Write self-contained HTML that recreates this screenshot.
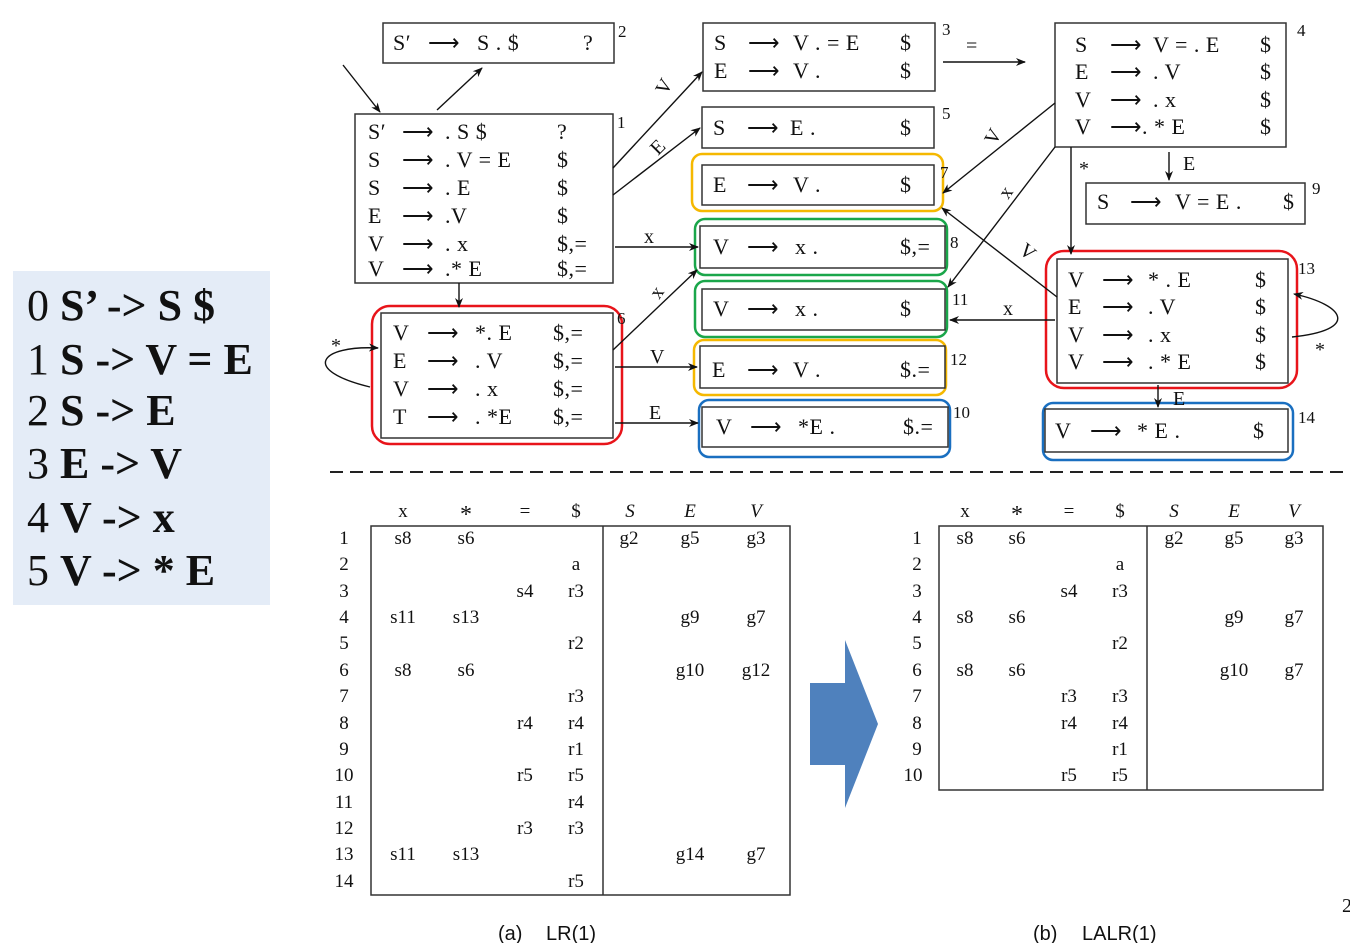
<!DOCTYPE html>
<html><head><meta charset="utf-8"><style>
html,body{margin:0;padding:0;background:#fff;}
svg{display:block;}
text{font-family:"Liberation Serif",serif;fill:#111;}
.b{font-size:22px;letter-spacing:0.5px;}
.n{font-size:17px;}
.t{font-size:20px;}
.l{font-size:19px;}
.c{font-family:"Liberation Sans",sans-serif;font-size:20px;}
</style></head><body>
<svg width="1350" height="943" viewBox="0 0 1350 943" xmlns="http://www.w3.org/2000/svg">
<defs>
<marker id="ah" markerWidth="10" markerHeight="8" refX="9" refY="4" orient="auto" markerUnits="userSpaceOnUse">
<path d="M0,0 L10,4 L0,8 L3,4 z" fill="#111"/></marker>
</defs>

<!-- legend -->
<rect x="13" y="271" width="257" height="334" fill="#e4ecf7"/>
<g style="font-size:44px">
<text x="27" y="320">0 <tspan font-weight="bold">S’ -&gt; S $</tspan></text>
<text x="27" y="374">1 <tspan font-weight="bold">S -&gt; V = E</tspan></text>
<text x="27" y="425">2 <tspan font-weight="bold">S -&gt; E</tspan></text>
<text x="27" y="478">3 <tspan font-weight="bold">E -&gt; V</tspan></text>
<text x="27" y="532">4 <tspan font-weight="bold">V -&gt; x</tspan></text>
<text x="27" y="585">5 <tspan font-weight="bold">V -&gt; * E</tspan></text>
</g>

<!-- colored outlines -->
<g fill="none" stroke-width="2.5">
<rect x="692" y="154" width="251" height="57" rx="10" stroke="#f5b800"/>
<rect x="695" y="219" width="252" height="56" rx="10" stroke="#1aa64a"/>
<rect x="695" y="281" width="252" height="56" rx="10" stroke="#1aa64a"/>
<rect x="694" y="340" width="252" height="55" rx="10" stroke="#f5b800"/>
<rect x="699" y="400" width="251" height="57" rx="10" stroke="#1a6fc0"/>
<rect x="372" y="306" width="250" height="138" rx="18" stroke="#e8141a"/>
<rect x="1046" y="251" width="251" height="137" rx="18" stroke="#e8141a"/>
<rect x="1043" y="403" width="250" height="57" rx="10" stroke="#1a6fc0"/>
</g>

<!-- boxes -->
<g fill="none" stroke="#333" stroke-width="1.5">
<rect x="383" y="23" width="231" height="40"/>
<rect x="703" y="23" width="232" height="68"/>
<rect x="1055" y="23" width="231" height="124"/>
<rect x="355" y="114" width="258" height="169"/>
<rect x="702" y="107" width="232" height="41"/>
<rect x="702" y="165" width="232" height="40"/>
<rect x="700" y="226" width="245" height="42"/>
<rect x="702" y="289" width="243" height="41"/>
<rect x="700" y="346" width="245" height="42"/>
<rect x="702" y="407" width="246" height="40"/>
<rect x="381" y="313" width="232" height="125"/>
<rect x="1086" y="183" width="219" height="41"/>
<rect x="1057" y="259" width="231" height="124"/>
<rect x="1045" y="409" width="243" height="43"/>
</g>

<g class="b">
<text x="393" y="50">S′</text><text x="428" y="50">⟶</text><text x="477" y="50">S . $</text><text x="583" y="50">?</text>
<text x="714" y="50">S</text><text x="748" y="50">⟶</text><text x="793" y="50">V . = E</text><text x="900" y="50">$</text>
<text x="714" y="78">E</text><text x="748" y="78">⟶</text><text x="793" y="78">V .</text><text x="900" y="78">$</text>
<text x="1075" y="52">S</text><text x="1110" y="52">⟶</text><text x="1153" y="52">V = . E</text><text x="1260" y="52">$</text>
<text x="1075" y="79">E</text><text x="1110" y="79">⟶</text><text x="1153" y="79">. V</text><text x="1260" y="79">$</text>
<text x="1075" y="107">V</text><text x="1110" y="107">⟶</text><text x="1153" y="107">. x</text><text x="1260" y="107">$</text>
<text x="1075" y="134">V</text><text x="1110" y="134">⟶. * E</text><text x="1260" y="134">$</text>
<text x="368" y="139">S′</text><text x="402" y="139">⟶</text><text x="445" y="139">. S $</text><text x="557" y="139">?</text>
<text x="368" y="167">S</text><text x="402" y="167">⟶</text><text x="445" y="167">. V = E</text><text x="557" y="167">$</text>
<text x="368" y="195">S</text><text x="402" y="195">⟶</text><text x="445" y="195">. E</text><text x="557" y="195">$</text>
<text x="368" y="223">E</text><text x="402" y="223">⟶</text><text x="445" y="223">.V</text><text x="557" y="223">$</text>
<text x="368" y="251">V</text><text x="402" y="251">⟶</text><text x="445" y="251">. x</text><text x="557" y="251">$,=</text>
<text x="368" y="276">V</text><text x="402" y="276">⟶</text><text x="445" y="276">.* E</text><text x="557" y="276">$,=</text>
<text x="713" y="135">S</text><text x="747" y="135">⟶</text><text x="790" y="135">E .</text><text x="900" y="135">$</text>
<text x="713" y="192">E</text><text x="747" y="192">⟶</text><text x="793" y="192">V .</text><text x="900" y="192">$</text>
<text x="713" y="254">V</text><text x="747" y="254">⟶</text><text x="795" y="254">x .</text><text x="900" y="254">$,=</text>
<text x="713" y="316">V</text><text x="747" y="316">⟶</text><text x="795" y="316">x .</text><text x="900" y="316">$</text>
<text x="712" y="377">E</text><text x="747" y="377">⟶</text><text x="793" y="377">V .</text><text x="900" y="377">$.=</text>
<text x="716" y="434">V</text><text x="750" y="434">⟶</text><text x="798" y="434">*E .</text><text x="903" y="434">$.=</text>
<text x="393" y="340">V</text><text x="427" y="340">⟶</text><text x="475" y="340">*. E</text><text x="553" y="340">$,=</text>
<text x="393" y="368">E</text><text x="427" y="368">⟶</text><text x="475" y="368">. V</text><text x="553" y="368">$,=</text>
<text x="393" y="396">V</text><text x="427" y="396">⟶</text><text x="475" y="396">. x</text><text x="553" y="396">$,=</text>
<text x="393" y="424">T</text><text x="427" y="424">⟶</text><text x="475" y="424">. *E</text><text x="553" y="424">$,=</text>
<text x="1097" y="209">S</text><text x="1130" y="209">⟶</text><text x="1175" y="209">V = E .</text><text x="1283" y="209">$</text>
<text x="1068" y="287">V</text><text x="1102" y="287">⟶</text><text x="1148" y="287">* . E</text><text x="1255" y="287">$</text>
<text x="1068" y="314">E</text><text x="1102" y="314">⟶</text><text x="1148" y="314">. V</text><text x="1255" y="314">$</text>
<text x="1068" y="342">V</text><text x="1102" y="342">⟶</text><text x="1148" y="342">. x</text><text x="1255" y="342">$</text>
<text x="1068" y="369">V</text><text x="1102" y="369">⟶</text><text x="1148" y="369">. * E</text><text x="1255" y="369">$</text>
<text x="1055" y="438">V</text><text x="1090" y="438">⟶</text><text x="1137" y="438">* E .</text><text x="1253" y="438">$</text>
</g>

<g class="n">
<text x="618" y="37">2</text><text x="942" y="35">3</text><text x="1297" y="36">4</text>
<text x="617" y="128">1</text><text x="942" y="119">5</text><text x="940" y="178">7</text>
<text x="950" y="248">8</text><text x="952" y="305">11</text><text x="950" y="365">12</text>
<text x="953" y="418">10</text><text x="617" y="324">6</text><text x="1312" y="194">9</text>
<text x="1298" y="274">13</text><text x="1298" y="423">14</text>
</g>

<g stroke="#111" stroke-width="1.4" fill="none" marker-end="url(#ah)">
<line x1="343" y1="65" x2="380" y2="112"/>
<line x1="437" y1="110" x2="482" y2="68"/>
<line x1="613" y1="168" x2="702" y2="72"/>
<line x1="613" y1="195" x2="700" y2="128"/>
<line x1="615" y1="247" x2="698" y2="247"/>
<line x1="459" y1="283" x2="459" y2="307"/>
<line x1="613" y1="350" x2="697" y2="270"/>
<line x1="615" y1="367" x2="697" y2="367"/>
<line x1="615" y1="423" x2="698" y2="423"/>
<path d="M370,387 C300,370 320,345 378,348"/>
<line x1="943" y1="62" x2="1025" y2="62"/>
<line x1="1055" y1="103" x2="943" y2="193"/>
<line x1="1055" y1="147" x2="948" y2="287"/>
<line x1="1071" y1="147" x2="1071" y2="254"/>
<line x1="1169" y1="152" x2="1169" y2="180"/>
<line x1="1057" y1="297" x2="942" y2="208"/>
<line x1="1055" y1="320" x2="950" y2="320"/>
<path d="M1292,337 C1360,330 1345,305 1294,294"/>
<line x1="1158" y1="385" x2="1158" y2="407"/>
</g>

<g class="t">
<text x="0" y="0" transform="translate(666,96) rotate(-60)">V</text>
<text x="0" y="0" transform="translate(658,156) rotate(-45)">E</text>
<text x="644" y="243">x</text>
<text x="0" y="0" transform="translate(659,300) rotate(-55)">x</text>
<text x="650" y="363">V</text>
<text x="649" y="419">E</text>
<text x="331" y="352">*</text>
<text x="966" y="52">=</text>
<text x="0" y="0" transform="translate(995,146) rotate(-60)">V</text>
<text x="0" y="0" transform="translate(1008,200) rotate(-55)">x</text>
<text x="1079" y="175">*</text>
<text x="1183" y="170">E</text>
<text x="0" y="0" transform="translate(1018,252) rotate(40)">V</text>
<text x="1003" y="315">x</text>
<text x="1315" y="356">*</text>
<text x="1173" y="405">E</text>
</g>

<line x1="330" y1="472" x2="1350" y2="472" stroke="#222" stroke-width="2" stroke-dasharray="13,7"/>

<g fill="none" stroke="#333" stroke-width="1.5">
<rect x="371" y="526" width="419" height="369"/>
<line x1="603" y1="526" x2="603" y2="895"/>
<rect x="939" y="526" width="384" height="264"/>
<line x1="1147" y1="526" x2="1147" y2="790"/>
</g>
<g class="l" text-anchor="middle">
<text x="403" y="517">x</text><text x="466" y="522" style="font-size:24px">*</text><text x="525" y="517">=</text><text x="576" y="517">$</text>
<text x="630" y="517" font-style="italic">S</text><text x="690" y="517" font-style="italic">E</text><text x="756" y="517" font-style="italic">V</text>
<text x="344" y="544">1</text><text x="344" y="570">2</text><text x="344" y="597">3</text><text x="344" y="623">4</text>
<text x="344" y="649">5</text><text x="344" y="676">6</text><text x="344" y="702">7</text><text x="344" y="729">8</text>
<text x="344" y="755">9</text><text x="344" y="781">10</text><text x="344" y="808">11</text><text x="344" y="834">12</text>
<text x="344" y="860">13</text><text x="344" y="887">14</text>
<text x="403" y="544">s8</text><text x="466" y="544">s6</text><text x="629" y="544">g2</text><text x="690" y="544">g5</text><text x="756" y="544">g3</text>
<text x="576" y="570">a</text>
<text x="525" y="597">s4</text><text x="576" y="597">r3</text>
<text x="403" y="623">s11</text><text x="466" y="623">s13</text><text x="690" y="623">g9</text><text x="756" y="623">g7</text>
<text x="576" y="649">r2</text>
<text x="403" y="676">s8</text><text x="466" y="676">s6</text><text x="690" y="676">g10</text><text x="756" y="676">g12</text>
<text x="576" y="702">r3</text>
<text x="525" y="729">r4</text><text x="576" y="729">r4</text>
<text x="576" y="755">r1</text>
<text x="525" y="781">r5</text><text x="576" y="781">r5</text>
<text x="576" y="808">r4</text>
<text x="525" y="834">r3</text><text x="576" y="834">r3</text>
<text x="403" y="860">s11</text><text x="466" y="860">s13</text><text x="690" y="860">g14</text><text x="756" y="860">g7</text>
<text x="576" y="887">r5</text>

<text x="965" y="517">x</text><text x="1017" y="522" style="font-size:24px">*</text><text x="1069" y="517">=</text><text x="1120" y="517">$</text>
<text x="1174" y="517" font-style="italic">S</text><text x="1234" y="517" font-style="italic">E</text><text x="1294" y="517" font-style="italic">V</text>
<text x="917" y="544">1</text><text x="917" y="570">2</text><text x="917" y="597">3</text><text x="917" y="623">4</text>
<text x="917" y="649">5</text><text x="917" y="676">6</text><text x="917" y="702">7</text><text x="917" y="729">8</text>
<text x="917" y="755">9</text><text x="913" y="781">10</text>
<text x="965" y="544">s8</text><text x="1017" y="544">s6</text><text x="1174" y="544">g2</text><text x="1234" y="544">g5</text><text x="1294" y="544">g3</text>
<text x="1120" y="570">a</text>
<text x="1069" y="597">s4</text><text x="1120" y="597">r3</text>
<text x="965" y="623">s8</text><text x="1017" y="623">s6</text><text x="1234" y="623">g9</text><text x="1294" y="623">g7</text>
<text x="1120" y="649">r2</text>
<text x="965" y="676">s8</text><text x="1017" y="676">s6</text><text x="1234" y="676">g10</text><text x="1294" y="676">g7</text>
<text x="1069" y="702">r3</text><text x="1120" y="702">r3</text>
<text x="1069" y="729">r4</text><text x="1120" y="729">r4</text>
<text x="1120" y="755">r1</text>
<text x="1069" y="781">r5</text><text x="1120" y="781">r5</text>
</g>

<polygon points="810,683 845,683 845,640 878,724 845,808 845,765 810,765" fill="#4f81bd"/>

<text class="c" x="498" y="940">(a)</text><text class="c" x="546" y="940">LR(1)</text>
<text class="c" x="1033" y="940">(b)</text><text class="c" x="1082" y="940">LALR(1)</text>
<text x="1342" y="912" style="font-size:20px">2</text>
</svg>
</body></html>
